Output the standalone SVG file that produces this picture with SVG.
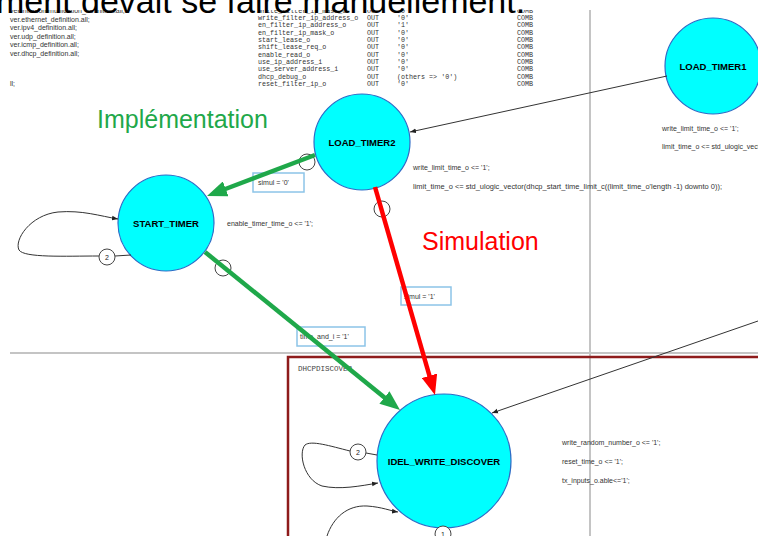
<svg xmlns="http://www.w3.org/2000/svg" width="758" height="536" viewBox="0 0 758 536">
<style>
.lst{font-family:"Liberation Sans",Arial,sans-serif;font-size:7px;fill:#333}
.mono{font-family:"Liberation Mono","Courier New",monospace;font-size:6.7px;fill:#333}
.ann{font-family:"Liberation Sans",Arial,sans-serif;font-size:7px;fill:#333}
.state{fill:#00FFFF;stroke:#2e6bc6;stroke-width:1.2}
.lbl{font-family:"Liberation Sans",Arial,sans-serif;font-size:9.5px;font-weight:bold;fill:#000;text-anchor:middle}
.cond{fill:#fff;stroke:#8cc4e8;stroke-width:1.5}
.prio{fill:#fff;stroke:#444;stroke-width:1}
.prioT{font-family:"Liberation Sans",Arial,sans-serif;font-size:7px;fill:#222;text-anchor:middle}
.thin{fill:none;stroke:#333;stroke-width:1}
.grid{stroke:#c4c4c4;stroke-width:2;fill:none}
.big{font-family:"Liberation Sans",Arial,sans-serif;font-size:25px}
</style>
<defs>
<marker id="ah" viewBox="0 0 10 10" refX="10" refY="5" markerWidth="6" markerHeight="6" markerUnits="userSpaceOnUse" orient="auto"><path d="M0,1 L10,5 L0,9 z" fill="#222"/></marker>
<marker id="ahG" viewBox="0 0 20 16" refX="6" refY="8" markerWidth="20" markerHeight="16" markerUnits="userSpaceOnUse" orient="auto"><path d="M0,0 L20,8 L0,16 z" fill="#1fa84a"/></marker>
<marker id="ahR" viewBox="0 0 20 16" refX="6" refY="8" markerWidth="20" markerHeight="16" markerUnits="userSpaceOnUse" orient="auto"><path d="M0,0 L20,8 L0,16 z" fill="#ff0000"/></marker>
</defs>
<rect width="758" height="536" fill="#fff"/>

<!-- page separators -->
<line class="grid" x1="590" y1="10" x2="590" y2="536"/>
<line class="grid" x1="10" y1="353" x2="758" y2="353"/>
<rect x="288" y="357" width="480" height="190" fill="none" stroke="#8e1b1b" stroke-width="2.5"/>
<text x="298" y="371" style="font-family:'Liberation Mono',monospace;font-size:7.5px;fill:#444">DHCPDISCOVER</text>

<!-- code listings -->
<g id="listing-left">
<text class="lst" x="10" y="13">ver.intercommunication_definition.all;</text>
<text class="lst" x="10" y="21.5">ver.ethernet_definition.all;</text>
<text class="lst" x="10" y="30">ver.ipv4_definition.all;</text>
<text class="lst" x="10" y="38.5">ver.udp_definition.all;</text>
<text class="lst" x="10" y="47">ver.icmp_definition.all;</text>
<text class="lst" x="10" y="55.5">ver.dhcp_definition.all;</text>
<text class="lst" x="10" y="86">ll;</text>
</g>
<g id="listing-right">
<text class="mono" x="258" y="12.5">write_filter_ip_mask_o</text><text class="mono" x="367" y="12.5">OUT</text><text class="mono" x="397" y="12.5">'0'</text><text class="mono" x="517" y="12.5">COMB</text>
<text class="mono" x="258" y="19.85">write_filter_ip_address_o</text><text class="mono" x="367" y="19.85">OUT</text><text class="mono" x="397" y="19.85">'0'</text><text class="mono" x="517" y="19.85">COMB</text>
<text class="mono" x="258" y="27.2">en_filter_ip_address_o</text><text class="mono" x="367" y="27.2">OUT</text><text class="mono" x="397" y="27.2">'1'</text><text class="mono" x="517" y="27.2">COMB</text>
<text class="mono" x="258" y="34.55">en_filter_ip_mask_o</text><text class="mono" x="367" y="34.55">OUT</text><text class="mono" x="397" y="34.55">'0'</text><text class="mono" x="517" y="34.55">COMB</text>
<text class="mono" x="258" y="41.9">start_lease_o</text><text class="mono" x="367" y="41.9">OUT</text><text class="mono" x="397" y="41.9">'0'</text><text class="mono" x="517" y="41.9">COMB</text>
<text class="mono" x="258" y="49.25">shift_lease_req_o</text><text class="mono" x="367" y="49.25">OUT</text><text class="mono" x="397" y="49.25">'0'</text><text class="mono" x="517" y="49.25">COMB</text>
<text class="mono" x="258" y="56.6">enable_read_o</text><text class="mono" x="367" y="56.6">OUT</text><text class="mono" x="397" y="56.6">'0'</text><text class="mono" x="517" y="56.6">COMB</text>
<text class="mono" x="258" y="63.95">use_ip_address_i</text><text class="mono" x="367" y="63.95">OUT</text><text class="mono" x="397" y="63.95">'0'</text><text class="mono" x="517" y="63.95">COMB</text>
<text class="mono" x="258" y="71.3">use_server_address_i</text><text class="mono" x="367" y="71.3">OUT</text><text class="mono" x="397" y="71.3">'0'</text><text class="mono" x="517" y="71.3">COMB</text>
<text class="mono" x="258" y="78.65">dhcp_debug_o</text><text class="mono" x="367" y="78.65">OUT</text><text class="mono" x="397" y="78.65">(others =&gt; '0')</text><text class="mono" x="517" y="78.65">COMB</text>
<text class="mono" x="258" y="86">reset_filter_ip_o</text><text class="mono" x="367" y="86">OUT</text><text class="mono" x="397" y="86">'0'</text><text class="mono" x="517" y="86">COMB</text>
</g>
<rect x="0" y="0" width="560" height="10" fill="#fff"/>
<text x="-4" y="13" style="font-family:'Liberation Sans',Arial,sans-serif;font-size:34px;fill:#000">ment devait se faire manuellement.</text>

<!-- condition boxes -->
<g id="cond-simul0"><rect class="cond" x="253" y="173" width="51" height="19"/><text class="ann" x="258" y="185">simul = '0'</text></g>
<g id="cond-simul1"><rect class="cond" x="401" y="287" width="50" height="18"/><text class="ann" x="404" y="299">simul = '1'</text></g>
<g id="cond-time"><rect class="cond" x="297" y="327" width="68" height="19"/><text class="ann" x="300" y="339">time_and_i = '1'</text></g>

<!-- states -->
<g id="load_timer1">
<circle class="state" cx="713" cy="66" r="48"/>
<text class="lbl" x="713" y="69.5">LOAD_TIMER1</text>
<text class="ann" x="662" y="131">write_limit_time_o &lt;= '1';</text>
<text class="ann" x="662" y="149">limit_time_o &lt;= std_ulogic_vector(dhcp_start_time_limit_c((limit_time_o'length -1) downto 0));</text>
</g>
<g id="load_timer2">
<circle class="state" cx="362" cy="142" r="48"/>
<text class="lbl" x="362" y="145.5">LOAD_TIMER2</text>
<text class="ann" x="413" y="170">write_limit_time_o &lt;= '1';</text>
<text class="ann" x="413" y="189" textLength="309" lengthAdjust="spacingAndGlyphs">limit_time_o &lt;= std_ulogic_vector(dhcp_start_time_limit_c((limit_time_o'length -1) downto 0));</text>
</g>
<g id="start_timer">
<circle class="state" cx="166" cy="223" r="48"/>
<text class="lbl" x="166" y="226.5">START_TIMER</text>
<text class="ann" x="227" y="226">enable_timer_time_o &lt;= '1';</text>
</g>
<g id="idel_write_discover">
<circle class="state" cx="444" cy="461" r="67"/>
<text class="lbl" x="444" y="465">IDEL_WRITE_DISCOVER</text>
<text class="ann" x="562" y="445">write_random_number_o &lt;= '1';</text>
<text class="ann" x="562" y="464">reset_time_o &lt;= '1';</text>
<text class="ann" x="562" y="483">tx_inputs_o.able&lt;='1';</text>
</g>

<!-- connectors -->
<g id="connectors">
<line class="thin" x1="667" y1="76" x2="410" y2="132" marker-end="url(#ah)"/>
<line class="thin" x1="758" y1="321" x2="492" y2="413" marker-end="url(#ah)"/>
<line class="thin" x1="115" y1="256" x2="131" y2="255"/>
<path class="thin" d="M99,256 C65,256 24,258 19,250 C14,240 30,215 58,212 C82,210 100,216 118,219" marker-end="url(#ah)"/>
<circle class="prio" cx="107" cy="257" r="8"/><text class="prioT" x="107" y="259.5">2</text>
<line class="thin" x1="366" y1="453" x2="377" y2="455"/>
<path class="thin" d="M350,451 C330,446 311,440 305,445 C298,453 304,480 322,486 C340,490 360,486 378,483" marker-end="url(#ah)"/>
<circle class="prio" cx="358" cy="452" r="8"/><text class="prioT" x="358" y="454.5">2</text>
<path class="thin" d="M327,536 C333,518 347,505 367,506 C382,507 391,511 398,512" marker-end="url(#ah)"/>
<circle class="prio" cx="443" cy="534" r="8"/><text class="prioT" x="443" y="536.5">1</text>
<circle class="prio" cx="307" cy="162" r="8"/>
<circle class="prio" cx="382" cy="209" r="8"/>
<circle class="prio" cx="223" cy="268" r="8"/>
<line x1="315" y1="155" x2="220.1" y2="191" stroke="#1fa84a" stroke-width="4.5" marker-end="url(#ahG)"/>
<line x1="205" y1="252" x2="389.1" y2="401.2" stroke="#1fa84a" stroke-width="4.5" marker-end="url(#ahG)"/>
<line x1="375" y1="187" x2="431.1" y2="381.5" stroke="#ff0000" stroke-width="4.5" marker-end="url(#ahR)"/>
</g>

<text class="big" x="97" y="128" fill="#1fa84a">Implémentation</text>
<text class="big" x="422" y="250" fill="#ff0000">Simulation</text>
</svg>
